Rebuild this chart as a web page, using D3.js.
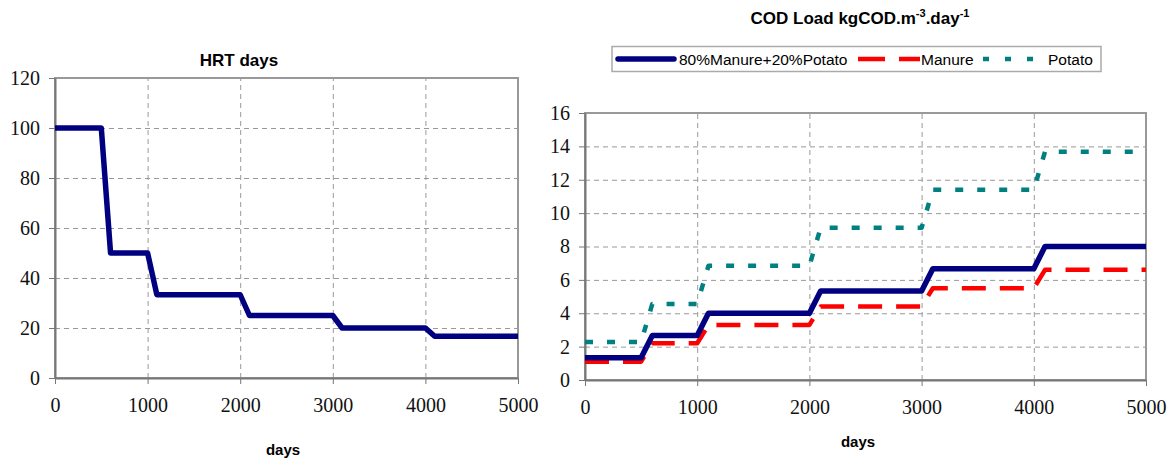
<!DOCTYPE html>
<html>
<head>
<meta charset="utf-8">
<script src="https://cdn.jsdelivr.net/npm/d3@7"></script>
<style>
  body { margin: 0; background: #fff; }
  .title { font-family: "Liberation Sans", Arial, sans-serif; font-weight: bold; font-size: 17px; fill: #000; }
  .xlabel { font-family: "Liberation Sans", Arial, sans-serif; font-weight: bold; font-size: 15px; fill: #000; }
  .legend text { font-family: "Liberation Sans", Arial, sans-serif; font-size: 15.5px; fill: #000; }
  svg .tick text { font-family: 'Liberation Serif', 'DejaVu Serif', serif !important; font-size: 20px !important; }
</style>
</head>
<body>
<div id="chart"></div>
<script>
const days = [0, 500, 600, 1000, 1100, 2000, 2100, 3000, 3100, 4000, 4100, 5000];
const hrt = [100, 100, 50, 50, 33.3, 33.3, 25, 25, 20, 20, 16.7, 16.7];
const codMix = [1.33, 1.33, 2.67, 2.67, 4, 4, 5.33, 5.33, 6.67, 6.67, 8, 8];
const codManure = [1.1, 1.1, 2.2, 2.2, 3.3, 3.3, 4.4, 4.4, 5.5, 5.5, 6.6, 6.6];
const codPotato = [2.28, 2.28, 4.56, 4.56, 6.84, 6.84, 9.12, 9.12, 11.4, 11.4, 13.68, 13.68];
const xTicks = [0, 1000, 2000, 3000, 4000, 5000];
const hrtTicks = [0, 20, 40, 60, 80, 100, 120];
const codTicks = [0, 2, 4, 6, 8, 10, 12, 14, 16];
const seriesNames = ['80%Manure+20%Potato', 'Manure', 'Potato'];

const svg = d3.select('#chart').append('svg').attr('width', 1175).attr('height', 461);

function panel(xr, yr, yDomain, yTicks) {
  const x = d3.scaleLinear().domain([0, 5000]).range(xr);
  const y = d3.scaleLinear().domain(yDomain).range(yr);
  const g = svg.append('g');
  // grid
  g.append('g').attr('transform', `translate(0,${yr[0]})`)
    .call(d3.axisBottom(x).tickValues(xTicks.slice(1, -1)).tickSize(-(yr[0] - yr[1])).tickFormat(''))
    .call(s => s.select('.domain').remove())
    .selectAll('line').attr('stroke', '#999').attr('stroke-dasharray', '5,4');
  g.append('g').attr('transform', `translate(${xr[0]},0)`)
    .call(d3.axisLeft(y).tickValues(yTicks.slice(1, -1)).tickSize(-(xr[1] - xr[0])).tickFormat(''))
    .call(s => s.select('.domain').remove())
    .selectAll('line').attr('stroke', '#999').attr('stroke-dasharray', '5,4');
  // frame
  g.append('rect').attr('x', xr[0]).attr('y', yr[1]).attr('width', xr[1] - xr[0]).attr('height', yr[0] - yr[1])
    .attr('fill', 'none').attr('stroke', '#999').attr('stroke-width', 2);
  // axes
  const ax = g.append('g').attr('transform', `translate(0,${yr[0]})`)
    .call(d3.axisBottom(x).tickValues(xTicks).tickFormat(d3.format('d')).tickSize(6).tickPadding(14).tickSizeOuter(0));
  const ay = g.append('g').attr('transform', `translate(${xr[0]},0)`)
    .call(d3.axisLeft(y).tickValues(yTicks).tickFormat(d3.format('d')).tickSize(6).tickPadding(9).tickSizeOuter(0));
  [ax, ay].forEach(a => {
    a.attr('font-family', null).attr('font-size', null);
    a.selectAll('.tick text').attr('fill', '#111')
      .style('font-family', "'Liberation Serif', 'DejaVu Serif', serif").style('font-size', '20px');
    a.select('.domain').attr('stroke', '#777').attr('stroke-width', 2);
    a.selectAll('.tick line').attr('stroke', '#777');
  });
  return { x, y };
}

function drawLine(p, vals, color, width, dash) {
  const line = d3.line().x((d, i) => p.x(days[i])).y(d => p.y(d));
  svg.append('path').datum(vals).attr('d', line)
    .attr('fill', 'none').attr('stroke', color).attr('stroke-width', width)
    .attr('stroke-dasharray', dash || null).attr('stroke-linejoin', 'round');
}

// left panel: HRT
const left = panel([55, 518], [378, 78], [0, 120], hrtTicks);
drawLine(left, hrt, '#000080', 5.5);
svg.append('text').attr('class', 'title').attr('x', 239).attr('y', 66).attr('text-anchor', 'middle').text('HRT days');
svg.append('text').attr('class', 'xlabel').attr('x', 283).attr('y', 455).attr('text-anchor', 'middle').text('days');

// right panel: COD load
const right = panel([585, 1146], [380, 113], [0, 16], codTicks);
drawLine(right, codPotato, '#008080', 4.5, '8,14');
drawLine(right, codManure, '#ff0000', 4.5, '24,14');
drawLine(right, codMix, '#000080', 5.5);

const t = svg.append('text').attr('class', 'title').attr('x', 860).attr('y', 24).attr('text-anchor', 'middle');
t.append('tspan').text('COD Load kgCOD.m');
t.append('tspan').attr('dy', -7).attr('font-size', 11).text('-3');
t.append('tspan').attr('dy', 7).text('.day');
t.append('tspan').attr('dy', -7).attr('font-size', 11).text('-1');
svg.append('text').attr('class', 'xlabel').attr('x', 858).attr('y', 447).attr('text-anchor', 'middle').text('days');

// legend
const lg = svg.append('g').attr('class', 'legend');
lg.append('rect').attr('x', 612).attr('y', 46.5).attr('width', 489).attr('height', 25)
  .attr('fill', '#fff').attr('stroke', '#aaa').attr('stroke-width', 1.5);
const legendItems = [
  { name: seriesNames[0], color: '#000080', w: 5.5, dash: null, x0: 618, x1: 674, tx: 679 },
  { name: seriesNames[1], color: '#ff0000', w: 4.5, dash: '27,14', x0: 858, x1: 920, tx: 921 },
  { name: seriesNames[2], color: '#008080', w: 4.5, dash: '6,16', x0: 983, x1: 1035, tx: 1048 }
];
legendItems.forEach(d => {
  lg.append('line').attr('x1', d.x0).attr('x2', d.x1).attr('y1', 59).attr('y2', 59)
    .attr('stroke', d.color).attr('stroke-width', d.w).attr('stroke-dasharray', d.dash)
    .attr('stroke-linecap', d.dash ? 'butt' : 'round');
  lg.append('text').attr('x', d.tx).attr('y', 64.5).text(d.name);
});
</script>
</body>
</html>
